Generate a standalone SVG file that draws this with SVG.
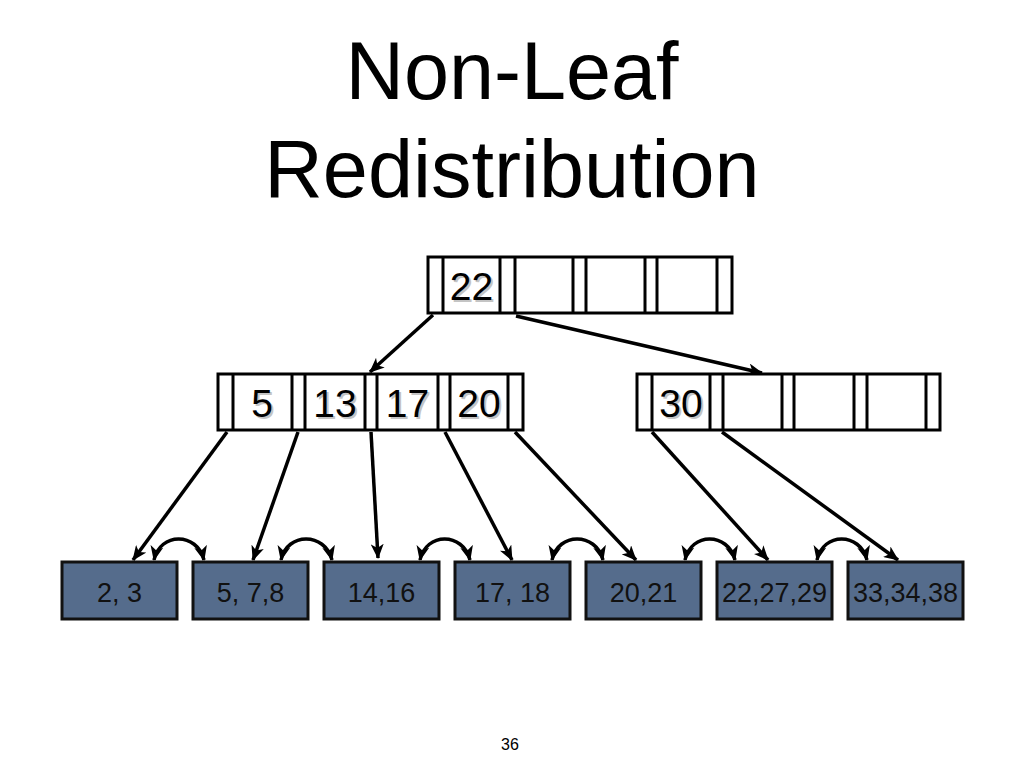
<svg xmlns="http://www.w3.org/2000/svg" width="1024" height="768" viewBox="0 0 1024 768">
<style>
.title{font-family:"Liberation Sans",Arial,sans-serif;font-size:81px;fill:#000;text-anchor:middle}
.box{fill:#fff;stroke:#000;stroke-width:3}
.div{stroke:#000;stroke-width:3}
.key{font-family:"Liberation Sans",Arial,sans-serif;font-size:39px;fill:#000;text-anchor:middle}
.sh{font-family:"Liberation Sans",Arial,sans-serif;font-size:39px;fill:#c4c4c4;text-anchor:middle}
.leaf{fill:#556c8c;stroke:#111;stroke-width:3}
.lt{font-family:"Liberation Sans",Arial,sans-serif;font-size:27px;fill:#111;text-anchor:middle}
.con{fill:none;stroke:#000;stroke-width:3.5;marker-end:url(#ah)}
.dbl{fill:none;stroke:#000;stroke-width:3.5;marker-end:url(#ah);marker-start:url(#ah)}
.pg{font-family:"Liberation Sans",Arial,sans-serif;font-size:16px;fill:#000;text-anchor:middle}
</style>
<defs>
<marker id="ah" viewBox="0 0 15 13" refX="14" refY="6.5" markerWidth="15" markerHeight="13" markerUnits="userSpaceOnUse" orient="auto-start-reverse">
<path d="M0,0 L15,6.5 L0,13 L4,6.5 z" fill="#000"/>
</marker>
</defs>
<rect width="1024" height="768" fill="#fff"/>
<text class="title" x="512" y="99">Non-Leaf</text>
<text class="title" x="512" y="197">Redistribution</text>

<g id="connectors">
<path class="con" d="M433,315 L370,372"/>
<path class="con" d="M516,316 L762,373"/>
<path class="con" d="M227,432 L133,560"/>
<path class="con" d="M298,432 L253,560"/>
<path class="con" d="M371,432 L378,558"/>
<path class="con" d="M445,432 L512,560"/>
<path class="con" d="M515,432 L636,560"/>
<path class="con" d="M652,432 L768,560"/>
<path class="con" d="M722,432 L898,560"/>
<path class="dbl" d="M154,560 C160,532 197,532 204,560"/>
<path class="dbl" d="M281,560 C287,532 325,532 332,560"/>
<path class="dbl" d="M420,560 C426,532 463,532 470,560"/>
<path class="dbl" d="M552,560 C558,532 596,532 603,560"/>
<path class="dbl" d="M685,560 C691,532 728,532 735,560"/>
<path class="dbl" d="M817,560 C823,532 860,532 867,560"/>
</g>

<g id="root">
<rect class="box" x="428" y="257" width="304" height="56"/>
<path class="div" d="M443,257V313M500,257V313M515,257V313M573,257V313M586,257V313M645,257V313M657,257V313M717,257V313"/>
<text class="sh" x="473.5" y="302">22</text>
<text class="key" x="471.5" y="300">22</text>
</g>

<g id="inner-left">
<rect class="box" x="218" y="374" width="305" height="56"/>
<path class="div" d="M233,374V430M292,374V430M305,374V430M365,374V430M377,374V430M438,374V430M450,374V430M508,374V430"/>
<text class="sh" x="264" y="419">5</text>
<text class="key" x="262" y="417">5</text>
<text class="sh" x="337" y="419">13</text>
<text class="key" x="335" y="417">13</text>
<text class="sh" x="409.5" y="419">17</text>
<text class="key" x="407.5" y="417">17</text>
<text class="sh" x="481" y="419">20</text>
<text class="key" x="479" y="417">20</text>
</g>

<g id="inner-right">
<rect class="box" x="637" y="374" width="303" height="56"/>
<path class="div" d="M652,374V430M710,374V430M723,374V430M782,374V430M794,374V430M854,374V430M867,374V430M926,374V430"/>
<text class="sh" x="683" y="419">30</text>
<text class="key" x="681" y="417">30</text>
</g>

<g id="leaf1"><rect class="leaf" x="62" y="562" width="115" height="57"/><text class="lt" x="119.5" y="602">2, 3</text></g>
<g id="leaf2"><rect class="leaf" x="193" y="562" width="115" height="57"/><text class="lt" x="250.5" y="602">5, 7,8</text></g>
<g id="leaf3"><rect class="leaf" x="324" y="562" width="115" height="57"/><text class="lt" x="381.5" y="602">14,16</text></g>
<g id="leaf4"><rect class="leaf" x="455" y="562" width="115" height="57"/><text class="lt" x="512.5" y="602">17, 18</text></g>
<g id="leaf5"><rect class="leaf" x="586" y="562" width="115" height="57"/><text class="lt" x="643.5" y="602">20,21</text></g>
<g id="leaf6"><rect class="leaf" x="717" y="562" width="115" height="57"/><text class="lt" x="774.5" y="602">22,27,29</text></g>
<g id="leaf7"><rect class="leaf" x="848" y="562" width="115" height="57"/><text class="lt" x="905.5" y="602">33,34,38</text></g>

<text class="pg" x="510" y="750">36</text>
</svg>
